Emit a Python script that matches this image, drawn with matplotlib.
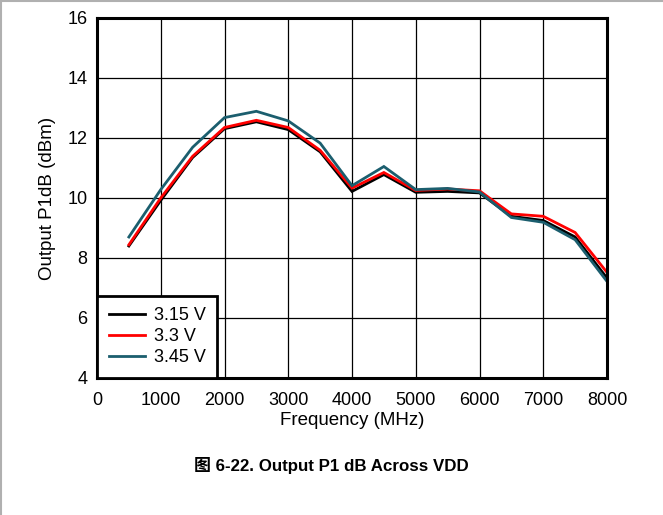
import matplotlib
matplotlib.use("Agg")
import matplotlib.pyplot as plt
from matplotlib.lines import Line2D

freq = [500, 1000, 1500, 2000, 2500, 3000, 3500, 4000, 4500, 5000, 5500, 6000, 6500, 7000, 7500, 8000]
v315 = [8.40, 9.92, 11.35, 12.31, 12.54, 12.28, 11.54, 10.22, 10.78, 10.19, 10.22, 10.17, 9.39, 9.25, 8.70, 7.33]
v330 = [8.44, 10.00, 11.39, 12.35, 12.59, 12.35, 11.59, 10.33, 10.85, 10.25, 10.30, 10.24, 9.47, 9.39, 8.85, 7.52]
v345 = [8.70, 10.28, 11.69, 12.68, 12.89, 12.57, 11.83, 10.41, 11.05, 10.28, 10.32, 10.20, 9.35, 9.19, 8.61, 7.22]
series_labels = ["3.15 V", "3.3 V", "3.45 V"]
series_colors = ["#000000", "#ff0000", "#1b5e6e"]
xticks = [0, 1000, 2000, 3000, 4000, 5000, 6000, 7000, 8000]
yticks = [4, 6, 8, 10, 12, 14, 16]
caption = "图 6-22. Output P1 dB Across VDD"

plt.rcParams['font.family'] = ['Liberation Sans', 'Noto Sans CJK SC', 'DejaVu Sans']

fig = plt.figure(figsize=(6.63, 5.15), dpi=100)
ax = fig.add_axes([97/663, 1 - 378/515, 510/663, 360/515])

for ys, lab, col in zip([v315, v330, v345], series_labels, series_colors):
    ax.plot(freq, ys, color=col, lw=2.0, label=lab, solid_joinstyle='miter')

ax.set_xlim(0, 8000)
ax.set_ylim(4, 16)
ax.set_xticks(xticks)
ax.set_yticks(yticks)
ax.grid(True, color='#000000', lw=0.9)
ax.set_axisbelow(True)
ax.tick_params(length=0, labelsize=13)
ax.tick_params(axis='x', pad=10)
ax.tick_params(axis='y', pad=7)
for s in ax.spines.values():
    s.set_linewidth(2.2)
ax.set_xlabel("Frequency (MHz)", fontsize=13.5, labelpad=2)
ax.set_ylabel("Output P1dB (dBm)", fontsize=13.5, labelpad=8)

leg = ax.legend(loc='lower left', fontsize=13, frameon=True, fancybox=False,
                borderaxespad=0, handlelength=2.0, handletextpad=0.5,
                labelspacing=0.22, borderpad=0.65, edgecolor='black')
leg.get_frame().set_linewidth(2.0)
leg.get_frame().set_alpha(1)

fig.text(331/663, 1 - 465/515, caption, ha='center', va='center', fontsize=12.2,
         fontweight='bold')

# figure frame lines (top and left)
fig.add_artist(Line2D([0, 1], [0.999, 0.999], transform=fig.transFigure, color='#b0b0b0', lw=1.5))
fig.add_artist(Line2D([0.001, 0.001], [0, 1], transform=fig.transFigure, color='#b0b0b0', lw=1.5))

fig.savefig("out.png", dpi=100)
